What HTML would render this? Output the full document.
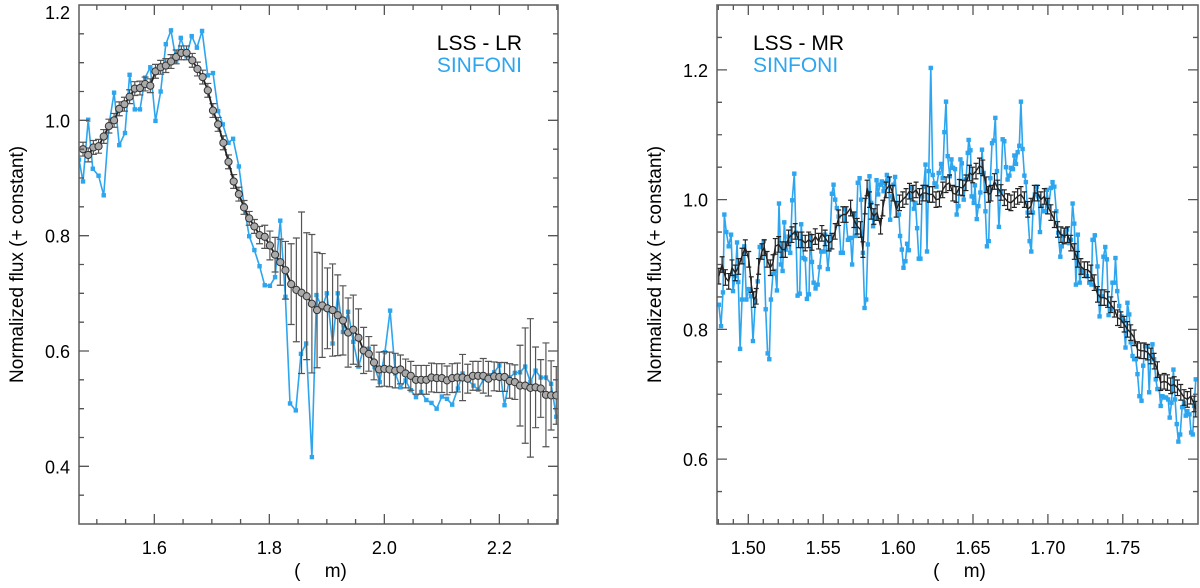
<!DOCTYPE html>
<html><head><meta charset="utf-8">
<style>
html,body{margin:0;padding:0;background:#fff;}
svg{display:block;font-family:"Liberation Sans",sans-serif;}
text{white-space:pre;}
</style></head>
<body>
<svg id="fig" width="1200" height="588" viewBox="0 0 1200 588" xmlns="http://www.w3.org/2000/svg"></svg>
<script>
// ---------- Left panel data (LSS - LR vs SINFONI) ----------
const lrWave = [1.476,1.485,1.494,1.503,1.512,1.521,1.530,1.539,1.548,1.557,1.566,1.575,1.584,1.593,1.602,1.611,1.620,1.629,1.638,1.647,1.656,1.666,1.675,1.684,1.693,1.702,1.711,1.720,1.729,1.738,1.747,1.756,1.765,1.774,1.783,1.792,1.801,1.810,1.819,1.828,1.838,1.847,1.856,1.865,1.874,1.883,1.892,1.901,1.910,1.919,1.928,1.937,1.946,1.955,1.964,1.973,1.982,1.991,2.000,2.009,2.019,2.028,2.037,2.046,2.055,2.064,2.073,2.082,2.091,2.100,2.109,2.118,2.127,2.136,2.145,2.154,2.163,2.172,2.181,2.191,2.200,2.209,2.218,2.227,2.236,2.245,2.254,2.263,2.272,2.281,2.290,2.299];
const lrFlux = [0.950,0.940,0.953,0.955,0.972,0.990,1.000,1.020,1.028,1.041,1.055,1.056,1.063,1.060,1.085,1.092,1.095,1.102,1.110,1.117,1.117,1.104,1.089,1.075,1.052,1.017,0.993,0.961,0.928,0.894,0.872,0.849,0.830,0.816,0.801,0.798,0.783,0.767,0.754,0.740,0.716,0.706,0.701,0.695,0.682,0.671,0.679,0.674,0.671,0.662,0.653,0.632,0.637,0.623,0.601,0.595,0.580,0.568,0.569,0.568,0.566,0.568,0.561,0.557,0.550,0.550,0.550,0.554,0.553,0.553,0.549,0.553,0.554,0.554,0.552,0.557,0.557,0.557,0.552,0.556,0.555,0.555,0.548,0.546,0.540,0.540,0.536,0.537,0.535,0.524,0.523,0.523];
const lrErr = [0.012,0.012,0.012,0.012,0.012,0.012,0.012,0.012,0.012,0.012,0.012,0.012,0.012,0.012,0.012,0.012,0.012,0.012,0.012,0.012,0.012,0.012,0.012,0.012,0.012,0.012,0.012,0.012,0.012,0.012,0.012,0.012,0.012,0.012,0.015,0.02,0.025,0.03,0.04,0.05,0.07,0.09,0.14,0.11,0.12,0.10,0.09,0.07,0.08,0.07,0.06,0.06,0.06,0.05,0.04,0.03,0.03,0.03,0.03,0.03,0.03,0.025,0.025,0.025,0.025,0.025,0.025,0.025,0.025,0.025,0.025,0.025,0.025,0.04,0.025,0.025,0.025,0.03,0.03,0.025,0.025,0.025,0.03,0.03,0.07,0.10,0.12,0.07,0.05,0.09,0.06,0.05];
const sinLWave = [1.469,1.476,1.485,1.493,1.503,1.512,1.521,1.530,1.539,1.549,1.557,1.566,1.575,1.584,1.593,1.602,1.611,1.620,1.629,1.638,1.646,1.656,1.665,1.674,1.683,1.693,1.702,1.711,1.719,1.729,1.737,1.747,1.756,1.765,1.774,1.783,1.792,1.801,1.810,1.819,1.828,1.836,1.846,1.855,1.864,1.874,1.882,1.892,1.900,1.910,1.919,1.928,1.937,1.946,1.955,1.964,1.973,1.983,1.992,2.001,2.010,2.019,2.028,2.037,2.046,2.055,2.064,2.073,2.082,2.091,2.100,2.109,2.118,2.128,2.136,2.146,2.155,2.163,2.173,2.182,2.191,2.200,2.209,2.218,2.227,2.236,2.245,2.254,2.263,2.272,2.281,2.290,2.299];
const sinLFlux = [0.932,0.894,1.001,0.916,0.904,0.870,0.991,1.048,0.957,0.978,1.079,1.019,1.019,1.074,1.092,0.999,1.050,1.132,1.156,1.103,1.143,1.111,1.146,1.126,1.155,1.078,1.082,1.016,0.993,0.961,0.968,0.920,0.853,0.799,0.775,0.747,0.714,0.713,0.728,0.826,0.694,0.509,0.497,0.595,0.613,0.416,0.697,0.674,0.700,0.613,0.700,0.633,0.668,0.616,0.573,0.604,0.604,0.572,0.546,0.598,0.670,0.561,0.537,0.549,0.532,0.520,0.529,0.515,0.510,0.500,0.521,0.517,0.507,0.535,0.561,0.549,0.540,0.533,0.552,0.558,0.563,0.575,0.506,0.554,0.562,0.563,0.573,0.546,0.566,0.554,0.554,0.543,0.486];
const leftXTicks = ["1.6","1.8","2.0","2.2"];
const leftYTicks = ["0.4","0.6","0.8","1.0","1.2"];

// ---------- Right panel data (LSS - MR vs SINFONI) ----------
const mrWave = [1.4803,1.4825,1.4847,1.4869,1.4891,1.4913,1.4936,1.4958,1.4980,1.5003,1.5020,1.5036,1.5053,1.5069,1.5091,1.5107,1.5125,1.5147,1.5165,1.5180,1.5203,1.5225,1.5247,1.5269,1.5291,1.5313,1.5336,1.5358,1.5380,1.5403,1.5425,1.5447,1.5469,1.5491,1.5513,1.5536,1.5558,1.5580,1.5603,1.5631,1.5653,1.5683,1.5705,1.5727,1.5749,1.5765,1.5780,1.5793,1.5809,1.5820,1.5838,1.5860,1.5883,1.5898,1.5920,1.5943,1.5965,1.5987,1.6009,1.6031,1.6053,1.6076,1.6098,1.6120,1.6143,1.6165,1.6187,1.6209,1.6231,1.6253,1.6276,1.6298,1.6320,1.6343,1.6365,1.6387,1.6409,1.6431,1.6453,1.6476,1.6498,1.6520,1.6543,1.6565,1.6587,1.6603,1.6620,1.6643,1.6665,1.6687,1.6709,1.6731,1.6753,1.6776,1.6798,1.6820,1.6843,1.6865,1.6887,1.6909,1.6931,1.6953,1.6976,1.6998,1.7020,1.7043,1.7065,1.7087,1.7109,1.7131,1.7153,1.7176,1.7198,1.7220,1.7243,1.7265,1.7287,1.7309,1.7331,1.7353,1.7376,1.7398,1.7420,1.7443,1.7465,1.7487,1.7509,1.7531,1.7553,1.7576,1.7598,1.7620,1.7643,1.7665,1.7687,1.7709,1.7731,1.7753,1.7776,1.7798,1.7820,1.7843,1.7865,1.7887,1.7909,1.7931,1.7953,1.7976,1.7987];
const mrFlux = [0.882,0.900,0.880,0.874,0.895,0.887,0.897,0.913,0.926,0.908,0.869,0.846,0.851,0.897,0.920,0.926,0.908,0.895,0.903,0.928,0.931,0.923,0.923,0.941,0.946,0.951,0.938,0.938,0.933,0.938,0.934,0.943,0.936,0.948,0.941,0.933,0.936,0.951,0.972,0.977,0.977,0.987,0.969,0.959,0.954,0.923,0.990,1.018,1.000,0.982,0.974,0.980,0.959,0.987,1.015,1.023,1.010,0.985,0.995,1.000,1.005,1.013,1.010,1.015,1.005,1.010,1.010,1.008,1.008,1.000,1.001,1.015,1.023,1.026,1.010,1.008,1.019,1.018,1.026,1.041,1.038,1.044,1.052,1.049,1.023,1.008,1.010,1.028,1.018,1.011,1.003,0.997,0.995,1.000,1.005,1.008,1.000,0.985,0.990,1.010,1.010,1.000,1.005,0.990,0.980,0.969,0.954,0.946,0.944,0.946,0.933,0.920,0.908,0.897,0.892,0.892,0.887,0.872,0.854,0.849,0.849,0.846,0.838,0.831,0.818,0.815,0.808,0.800,0.795,0.787,0.769,0.767,0.767,0.765,0.759,0.751,0.738,0.718,0.720,0.718,0.713,0.715,0.710,0.703,0.695,0.692,0.697,0.685,0.677];
const MR_ERR = 0.012;
const sinRWave = [1.4803,1.4818,1.4831,1.4840,1.4853,1.4869,1.4885,1.4898,1.4913,1.4925,1.4933,1.4945,1.4958,1.4973,1.4987,1.5003,1.5018,1.5031,1.5047,1.5063,1.5076,1.5091,1.5103,1.5116,1.5129,1.5140,1.5151,1.5165,1.5180,1.5191,1.5205,1.5218,1.5229,1.5240,1.5253,1.5269,1.5280,1.5293,1.5307,1.5318,1.5329,1.5343,1.5353,1.5369,1.5380,1.5391,1.5405,1.5413,1.5425,1.5436,1.5449,1.5463,1.5476,1.5487,1.5503,1.5513,1.5531,1.5543,1.5558,1.5569,1.5580,1.5591,1.5603,1.5618,1.5631,1.5647,1.5665,1.5683,1.5693,1.5709,1.5720,1.5731,1.5743,1.5753,1.5765,1.5776,1.5787,1.5798,1.5809,1.5820,1.5833,1.5845,1.5856,1.5867,1.5878,1.5891,1.5903,1.5913,1.5925,1.5936,1.5947,1.5958,1.5969,1.5980,1.5991,1.6005,1.6013,1.6025,1.6036,1.6049,1.6060,1.6071,1.6083,1.6093,1.6105,1.6116,1.6127,1.6138,1.6149,1.6160,1.6171,1.6183,1.6193,1.6205,1.6218,1.6231,1.6243,1.6256,1.6271,1.6287,1.6298,1.6309,1.6320,1.6331,1.6345,1.6356,1.6367,1.6380,1.6391,1.6403,1.6416,1.6425,1.6438,1.6453,1.6465,1.6471,1.6483,1.6491,1.6505,1.6513,1.6525,1.6536,1.6549,1.6560,1.6571,1.6583,1.6593,1.6605,1.6616,1.6627,1.6638,1.6649,1.6660,1.6673,1.6685,1.6698,1.6709,1.6720,1.6731,1.6743,1.6753,1.6767,1.6776,1.6787,1.6798,1.6809,1.6820,1.6831,1.6843,1.6853,1.6865,1.6878,1.6889,1.6900,1.6913,1.6925,1.6936,1.6947,1.6960,1.6971,1.6983,1.6993,1.7005,1.7020,1.7031,1.7043,1.7056,1.7069,1.7083,1.7093,1.7105,1.7116,1.7127,1.7140,1.7153,1.7165,1.7176,1.7187,1.7200,1.7212,1.7225,1.7243,1.7260,1.7276,1.7291,1.7298,1.7313,1.7331,1.7345,1.7358,1.7371,1.7383,1.7393,1.7405,1.7420,1.7431,1.7443,1.7451,1.7463,1.7476,1.7491,1.7505,1.7518,1.7531,1.7543,1.7553,1.7565,1.7576,1.7587,1.7598,1.7611,1.7625,1.7636,1.7649,1.7665,1.7676,1.7687,1.7698,1.7709,1.7720,1.7731,1.7743,1.7753,1.7765,1.7776,1.7789,1.7803,1.7813,1.7825,1.7838,1.7849,1.7860,1.7871,1.7883,1.7896,1.7909,1.7920,1.7931,1.7945,1.7956,1.7967,1.7976,1.7987];
const sinRFlux = [0.838,0.805,0.857,0.977,0.950,0.928,0.946,0.859,0.882,0.934,0.873,0.770,0.846,0.928,0.846,0.862,0.851,0.782,0.844,0.874,0.927,0.928,0.936,0.831,0.763,0.754,0.846,0.886,0.890,0.860,0.994,0.900,0.890,0.965,0.923,0.943,0.918,0.999,1.040,0.949,0.852,0.855,0.962,0.910,0.908,0.847,0.854,0.945,0.904,0.872,0.863,0.869,0.896,0.920,0.920,0.946,0.893,0.923,1.009,1.023,1.000,0.987,0.974,0.918,0.918,0.985,0.938,0.941,0.900,0.977,0.944,1.026,1.033,1.000,0.918,0.833,0.846,0.931,1.036,0.995,0.959,0.972,1.030,1.008,1.023,1.028,1.013,1.026,1.038,1.031,0.969,1.005,1.023,1.035,0.995,0.977,0.944,0.923,0.895,0.905,0.932,0.922,1.005,1.018,0.986,0.995,0.956,0.909,0.909,1.005,1.020,1.054,0.920,1.044,1.203,1.038,1.025,1.020,1.041,1.055,1.033,1.104,1.151,1.067,1.036,1.062,1.049,1.047,0.977,0.990,1.062,1.056,1.000,1.031,1.072,1.092,1.076,1.005,0.995,1.022,0.970,0.990,1.011,1.077,1.041,0.982,0.928,0.936,1.033,1.087,1.091,1.126,1.044,0.958,1.013,1.093,1.090,1.050,1.031,1.037,1.049,1.047,1.068,1.055,1.073,1.083,1.151,1.078,1.037,1.027,0.980,0.936,0.920,0.980,1.008,1.020,1.005,0.950,0.990,0.982,0.982,1.015,0.990,1.018,1.027,1.020,0.982,0.949,0.912,0.928,0.944,0.950,0.954,0.933,0.938,0.994,0.963,0.869,0.946,0.872,0.892,0.887,0.882,0.872,0.869,0.938,0.945,0.897,0.820,0.851,0.912,0.927,0.908,0.822,0.831,0.872,0.872,0.910,0.859,0.836,0.820,0.813,0.772,0.841,0.823,0.780,0.759,0.754,0.754,0.731,0.697,0.690,0.744,0.774,0.774,0.703,0.759,0.777,0.754,0.723,0.708,0.708,0.682,0.697,0.695,0.695,0.692,0.664,0.687,0.738,0.692,0.654,0.627,0.638,0.680,0.687,0.667,0.674,0.669,0.641,0.638,0.682,0.723];
const rightXTicks = ["1.50","1.55","1.60","1.65","1.70","1.75"];
const rightYTicks = ["0.6","0.8","1.0","1.2"];

const NS = "http://www.w3.org/2000/svg";
const svg = document.getElementById('fig');
const BLUE = "#2da5ef";
function mk(tag, attrs, parent){
  const e = document.createElementNS(NS, tag);
  for (const k in attrs) e.setAttribute(k, attrs[k]);
  (parent||svg).appendChild(e);
  return e;
}

function panel(cfg){
  const g = mk('g', {});
  
  
  const sx = v => cfg.x0 + (v - cfg.xmin) / (cfg.xmax - cfg.xmin) * (cfg.x1 - cfg.x0);
  const sy = v => cfg.y1 - (v - cfg.ymin) / (cfg.ymax - cfg.ymin) * (cfg.y1 - cfg.y0);

  const clipId = cfg.name + '-clip';
  const defs = mk('defs', {}, g);
  const cp = mk('clipPath', {id: clipId}, defs);
  mk('rect', {x: cfg.x0, y: cfg.y0, width: cfg.x1 - cfg.x0, height: cfg.y1 - cfg.y0}, cp);
  const plot = mk('g', {'clip-path': 'url(#' + clipId + ')'}, g);

  const bp = cfg.sW.map((w, i) => sx(w).toFixed(1) + ',' + sy(cfg.sF[i]).toFixed(1)).join(' ');
  const bl = mk('polyline', {points: bp, fill: 'none', stroke: BLUE, 'stroke-width': 1.6}, plot);
  
  
  cfg.sW.forEach((w, i) => {
    const s = mk('rect', {x: sx(w) - 2.2, y: sy(cfg.sF[i]) - 2.2, width: 4.4, height: 4.4, fill: BLUE}, plot);
    
    
  });

  cfg.lW.forEach((w, i) => {
    const e = cfg.lE ? cfg.lE[i] : cfg.lEc;
    const x = sx(w), yt = sy(cfg.lF[i] + e), yb = sy(cfg.lF[i] - e);
    const eb = mk('path', {d: `M${x},${yt}V${yb}M${x-cfg.cap},${yt}H${x+cfg.cap}M${x-cfg.cap},${yb}H${x+cfg.cap}`, stroke: cfg.errColor, 'stroke-width': 1.2, fill: 'none'}, plot);
    
    
  });
  const lp = cfg.lW.map((w, i) => sx(w).toFixed(1) + ',' + sy(cfg.lF[i]).toFixed(1)).join(' ');
  const ll = mk('polyline', {points: lp, fill: 'none', stroke: '#222', 'stroke-width': cfg.circles ? 1.8 : 1.4}, plot);
  
  
  if (cfg.circles) {
    cfg.lW.forEach((w, i) => {
      const c = mk('circle', {cx: sx(w), cy: sy(cfg.lF[i]), r: 3.6, fill: '#aaa', stroke: '#333', 'stroke-width': 1}, plot);
      
      
    });
  }

  const fr = mk('rect', {x: cfg.x0, y: cfg.y0, width: cfg.x1 - cfg.x0, height: cfg.y1 - cfg.y0, fill: 'none', stroke: '#666', 'stroke-width': 1.6}, g);
  
  

  let d = '';
  for (let v = cfg.xMinorStart; v <= cfg.xmax + 1e-9; v += cfg.xMinor) {
    const x = sx(v); if (x < cfg.x0 + 0.5 || x > cfg.x1 - 0.5) continue;
    const major = Math.abs(Math.round(v / cfg.xMajor) * cfg.xMajor - v) < 1e-6;
    const L = major ? 10 : 5;
    d += `M${x},${cfg.y1}v${-L}M${x},${cfg.y0}v${L}`;
  }
  for (let v = cfg.yMinorStart; v <= cfg.ymax + 1e-9; v += 0.05) {
    const y = sy(v); if (y < cfg.y0 + 0.5 || y > cfg.y1 - 0.5) continue;
    const major = Math.abs(Math.round(v / 0.2) * 0.2 - v) < 1e-6;
    const L = major ? 10 : 5;
    d += `M${cfg.x0},${y}h${L}M${cfg.x1},${y}h${-L}`;
  }
  const tk = mk('path', {d: d, stroke: '#555', 'stroke-width': 1.3, fill: 'none'}, g);
  
  

  cfg.xTicks.forEach(t => {
    const tx = mk('text', {x: sx(parseFloat(t)), y: 554, 'font-size': 18, 'text-anchor': 'middle', fill: '#000'}, g);
    tx.textContent = t;
    
    
  });
  cfg.yTicks.forEach(t => {
    const ty = mk('text', {x: cfg.x0 - 9, y: Math.max(sy(parseFloat(t)) + 7, 19), 'font-size': 18, 'text-anchor': 'end', fill: '#000'}, g);
    ty.textContent = t;
    
    
  });
  const xt = mk('text', {x: (cfg.x0 + cfg.x1) / 2 + 2, y: 577, 'font-size': 19, 'text-anchor': 'middle'}, g);
  xt.textContent = '(\u2003 m)';
  
  
  const yt = mk('text', {x: 0, y: 0, 'font-size': 19, 'text-anchor': 'middle', transform: `translate(${cfg.x0 - 56},${(cfg.y0 + cfg.y1) / 2}) rotate(-90)`}, g);
  yt.textContent = 'Normalized flux (+ constant)';
  
  

  const l1 = mk('text', {x: cfg.legX, y: 50, 'font-size': 21, 'text-anchor': cfg.legAnchor, fill: '#000'}, g);
  l1.textContent = cfg.legLabel;
  
  
  const l2 = mk('text', {x: cfg.legX, y: 72, 'font-size': 21, 'text-anchor': cfg.legAnchor, fill: BLUE}, g);
  l2.textContent = 'SINFONI';
  
  
}

panel({name: 'left-panel', x0: 79, x1: 558, y0: 5, y1: 524, xmin: 1.469, xmax: 2.302, ymin: 0.3, ymax: 1.2,
  xMajor: 0.2, xMinor: 0.05, xMinorStart: 1.5, yMinorStart: 0.3,
  xTicks: leftXTicks, yTicks: leftYTicks,
  lW: lrWave, lF: lrFlux, lE: lrErr, sW: sinLWave, sF: sinLFlux, circles: true, cap: 3.5, errColor: '#555',
  legX: 522, legAnchor: 'end', legLabel: 'LSS - LR'});
panel({name: 'right-panel', x0: 717, x1: 1198, y0: 5, y1: 524, xmin: 1.4791, xmax: 1.8002, ymin: 0.5, ymax: 1.3,
  xMajor: 0.05, xMinor: 0.01, xMinorStart: 1.48, yMinorStart: 0.5,
  xTicks: rightXTicks, yTicks: rightYTicks,
  lW: mrWave, lF: mrFlux, lE: null, lEc: MR_ERR, sW: sinRWave, sF: sinRFlux, circles: false, cap: 2.5, errColor: '#222',
  legX: 753, legAnchor: 'start', legLabel: 'LSS - MR'});
</script>
</body></html>
